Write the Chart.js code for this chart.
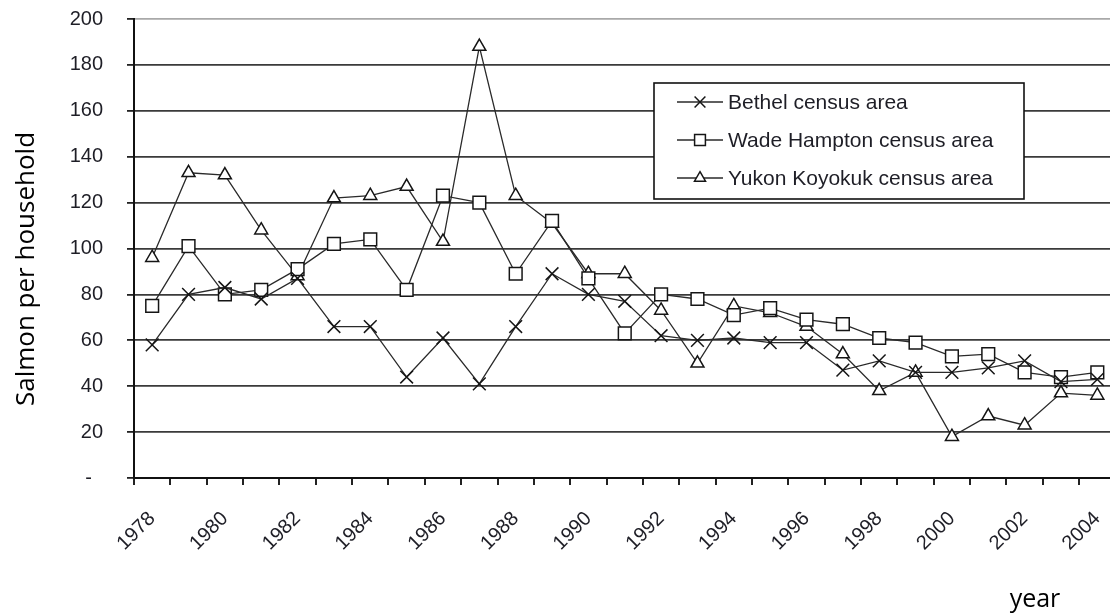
<!DOCTYPE html>
<html>
<head>
<meta charset="utf-8">
<title>Salmon per household</title>
<script src="https://cdn.jsdelivr.net/npm/chart.js@4.4.1/dist/chart.umd.min.js"></script>
<style>
  html, body { margin: 0; padding: 0; background: #fff; }
  /* the plot runs a little past the right edge, so the frame crops it */
  #frame { width: 1110px; height: 616px; overflow: hidden; position: relative; }
  #wrap { width: 1126px; height: 616px; position: relative; }
</style>
</head>
<body>
<div id="frame"><div id="wrap"><canvas id="salmonChart"></canvas></div></div>
<script>
const years = ['1978','1979','1980','1981','1982','1983','1984','1985','1986','1987','1988','1989','1990',
               '1991','1992','1993','1994','1995','1996','1997','1998','1999','2000','2001','2002','2003','2004'];

const bethel = [58, 80, 83, 78, 87, 66, 66, 44, 61, 41, 66, 89, 80, 77, 62, 60, 61, 59, 59, 47, 51, 46, 46, 48, 51, 42, 43];
const wadeHampton = [75, 101, 80, 82, 91, 102, 104, 82, 123, 120, 89, 112, 87, 63, 80, 78, 71, 74, 69, 67, 61, 59, 53, 54, 46, 44, 46];
const yukonKoyokuk = [96, 133, 132, 108, 88, 122, 123, 127, 103, 188, 123, 111, 89, 89, 73, 50, 75, 72, 66, 54, 38, 46, 18, 27, 23, 37, 36];

const seriesNames = ['Bethel census area', 'Wade Hampton census area', 'Yukon Koyokuk census area'];

const TICK_FONT = { family: '"Liberation Sans", Arial, sans-serif', size: 20 };
const LEGEND_SIZE = 21;
const INK = '#1e1e26';

function series(label, data, style, fill){
    return {
        label: label,
        data: data,
        borderColor: '#2a2a2a',
        borderWidth: 1.3,
        tension: 0,
        pointStyle: style,
        pointRadius: style === 'triangle' ? 7.5 : 9,
        pointHoverRadius: style === 'triangle' ? 7.5 : 9,
        pointBorderColor: '#151515',
        pointBorderWidth: 1.5,
        pointBackgroundColor: fill
    };
}

// legend sits inside the plot, boxed, like the old spreadsheet charts
const boxedLegend = {
    id: 'boxedLegend',
    afterDraw(chart, args, o){
        const ctx = chart.ctx;
        ctx.save();
        ctx.fillStyle = '#fff';
        ctx.fillRect(o.x, o.y, o.w, o.h);
        ctx.strokeStyle = '#111';
        ctx.lineWidth = 1.6;
        ctx.strokeRect(o.x, o.y, o.w, o.h);
        ctx.font = LEGEND_SIZE + 'px ' + TICK_FONT.family;
        ctx.textBaseline = 'middle';
        chart.data.datasets.forEach((ds, i) => {
            const y = o.y + o.firstRow + i * o.rowGap;
            ctx.strokeStyle = ds.borderColor;
            ctx.lineWidth = ds.borderWidth;
            ctx.beginPath();
            ctx.moveTo(o.x + o.lineFrom, y);
            ctx.lineTo(o.x + o.lineTo, y);
            ctx.stroke();
            ctx.fillStyle = ds.pointBackgroundColor;
            ctx.strokeStyle = ds.pointBorderColor;
            ctx.lineWidth = ds.pointBorderWidth;
            Chart.helpers.drawPoint(ctx, {
                pointStyle: ds.pointStyle,
                radius: ds.pointRadius * 0.85,
                rotation: 0,
                borderWidth: ds.pointBorderWidth
            }, o.x + (o.lineFrom + o.lineTo) / 2, y);
            ctx.fillStyle = INK;
            ctx.fillText(ds.label, o.x + o.textAt, y + 1);
        });
        ctx.restore();
    }
};

const axisTitles = {
    id: 'axisTitles',
    afterDraw(chart, args, o){
        const ctx = chart.ctx;
        ctx.save();
        ctx.fillStyle = '#000';
        ctx.textAlign = 'center';
        ctx.font = o.ySize + 'px "Open Sans", sans-serif';
        ctx.translate(o.yX, o.yY);
        ctx.rotate(-Math.PI / 2);
        ctx.textBaseline = 'middle';
        ctx.fillText(o.yText, 0, 0);
        ctx.restore();

        ctx.save();
        ctx.fillStyle = '#000';
        ctx.textAlign = 'center';
        ctx.textBaseline = 'alphabetic';
        ctx.font = o.xSize + 'px "Open Sans", sans-serif';
        ctx.fillText(o.xText, o.xX, o.xY);
        ctx.restore();
    }
};

new Chart(document.getElementById('salmonChart'), {
    type: 'line',
    data: {
        labels: years,
        datasets: [
            series(seriesNames[0], bethel, 'crossRot', '#fff'),
            series(seriesNames[1], wadeHampton, 'rect', '#fff'),
            series(seriesNames[2], yukonKoyokuk, 'triangle', '#fff')
        ]
    },
    options: {
        responsive: true,
        maintainAspectRatio: false,
        animation: false,
        layout: { padding: { top: 19, right: 1, left: 0, bottom: 0 } },
        plugins: {
            legend: { display: false },
            tooltip: { enabled: false },
            boxedLegend: { x: 654, y: 83, w: 370, h: 116, firstRow: 19, rowGap: 38, lineFrom: 23, lineTo: 69, textAt: 74 },
            axisTitles: {
                yText: 'Salmon per household', yX: 27, yY: 269, ySize: 26,
                xText: 'year', xX: 1035, xY: 607, xSize: 25
            }
        },
        scales: {
            x: {
                offset: true,
                grid: { offset: true, drawOnChartArea: false, drawTicks: true, tickLength: 7, tickColor: '#222', lineWidth: 2 },
                border: { display: true, color: '#111', width: 2 },
                ticks: {
                    autoSkip: false,
                    minRotation: 45,
                    maxRotation: 45,
                    padding: 22,
                    color: INK,
                    font: TICK_FONT,
                    callback: function(val, i){ return i % 2 === 0 ? this.getLabelForValue(val) : ''; }
                },
                afterFit(scale){
                    scale.height = 138;
                    // the layout padding already leaves room at the ends
                    scale.paddingLeft = 0;
                    scale.paddingRight = 0;
                }
            },
            y: {
                min: 0,
                max: 200,
                grid: {
                    color: c => (c.tick && c.tick.value === 200) ? '#a9a9a9' : '#3a3a3a',
                    lineWidth: 1.8,
                    drawTicks: true,
                    tickLength: 7,
                    tickColor: '#222'
                },
                border: { display: true, color: '#111', width: 2 },
                ticks: {
                    stepSize: 20,
                    padding: 24,
                    color: INK,
                    font: TICK_FONT,
                    callback: v => v === 0 ? '-  ' : v
                },
                afterFit(scale){
                    scale.width = 134;
                    scale.paddingTop = 0;
                    scale.paddingBottom = 0;
                }
            }
        }
    },
    plugins: [boxedLegend, axisTitles]
});
</script>
</body>
</html>
